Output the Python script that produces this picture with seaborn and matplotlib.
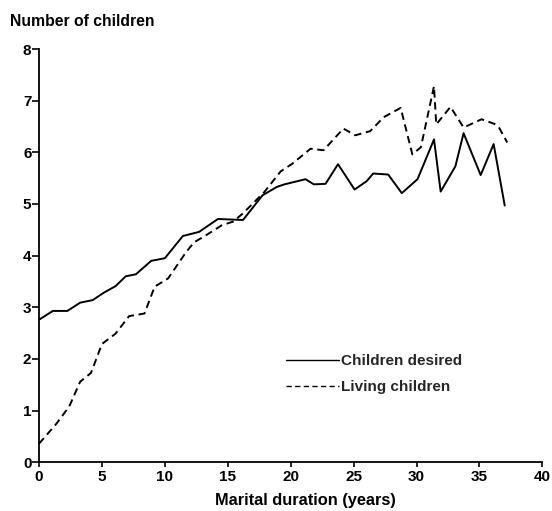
import matplotlib
matplotlib.use("Agg")
import matplotlib.pyplot as plt
import seaborn as sns
import pandas as pd

# Marital duration (years) at which each value was recorded
desired_years = [0.0, 1.1, 2.25, 3.27, 4.27, 5.13, 6.08, 6.89, 7.7, 8.92, 10.0,
                 11.43, 12.72, 14.22, 15.2, 16.21, 17.77, 18.9, 19.5, 21.18, 21.84,
                 22.77, 23.76, 25.08, 26.03, 26.56, 27.75, 28.83, 30.08, 31.39,
                 31.92, 33.09, 33.74, 35.1, 36.13, 37.01]
children_desired = [2.76, 2.93, 2.93, 3.09, 3.14, 3.28, 3.41, 3.6, 3.64, 3.9, 3.95,
                    4.38, 4.46, 4.71, 4.70, 4.69, 5.17, 5.33, 5.38, 5.48, 5.38,
                    5.39, 5.77, 5.28, 5.44, 5.59, 5.57, 5.21, 5.48, 6.25,
                    5.24, 5.73, 6.37, 5.56, 6.16, 4.97]

living_years = [0.0, 1.39, 2.4, 3.27, 4.13, 5.0, 6.08, 7.16, 8.38, 9.19, 10.26,
                11.69, 12.33, 13.24, 14.54, 15.44, 16.21, 17.9, 19.2, 20.13, 21.58,
                22.61, 24.19, 25.13, 26.32, 27.39, 28.74, 29.67, 30.35, 31.39,
                31.57, 32.7, 33.74, 35.17, 36.2, 36.58, 37.21]
living_children = [0.36, 0.75, 1.08, 1.56, 1.73, 2.29, 2.49, 2.83, 2.88, 3.4, 3.56,
                   4.07, 4.26, 4.39, 4.59, 4.66, 4.82, 5.23, 5.63, 5.78, 6.07,
                   6.04, 6.46, 6.33, 6.41, 6.68, 6.86, 5.96, 6.1, 7.28,
                   6.54, 6.88, 6.48, 6.64, 6.55, 6.47, 6.19]

x_ticks = [0, 5, 10, 15, 20, 25, 30, 35, 40]
y_ticks = [0, 1, 2, 3, 4, 5, 6, 7, 8]

series_labels = ["Children desired", "Living children"]
title_text = "Number of children"
x_label = "Marital duration (years)"

sns.set_style("ticks")
plt.rcParams["font.family"] = ["Liberation Sans", "DejaVu Sans"]
plt.rcParams["font.weight"] = "bold"

df_desired = pd.DataFrame({"years": desired_years, "children": children_desired})
df_living = pd.DataFrame({"years": living_years, "children": living_children})

fig = plt.figure(figsize=(5.52, 5.11), dpi=100)
ax = fig.add_axes([0.0707, 0.0953, 0.9118, 0.8088])

sns.lineplot(data=df_desired, x="years", y="children", ax=ax, color="black",
             linewidth=1.4, label=series_labels[0], estimator=None, sort=False)
sns.lineplot(data=df_living, x="years", y="children", ax=ax, color="black",
             linewidth=1.4, linestyle=(0, (3.8, 2.4)), label=series_labels[1],
             estimator=None, sort=False)

ax.set_xlim(0, 40)
ax.set_ylim(0, 8)
ax.set_xticks(x_ticks)
ax.set_yticks(y_ticks)
ax.tick_params(axis="both", direction="out", width=1.2, color="black",
               labelsize=11, labelcolor="black")
ax.tick_params(axis="x", length=3.5, pad=2)
ax.tick_params(axis="y", length=5, pad=0.5)
for lbl in ax.get_xticklabels() + ax.get_yticklabels():
    lbl.set_fontweight("bold")
for side in ["top", "right"]:
    ax.spines[side].set_visible(False)
for side in ["left", "bottom"]:
    ax.spines[side].set_linewidth(1.3)
    ax.spines[side].set_color("black")

ax.set_xlabel(x_label, fontsize=11.8, fontweight="bold", color="black")
ax.xaxis.set_label_coords(0.53, -0.074)
ax.set_ylabel("")
fig.text(10 / 552, 1 - 22 / 511, title_text, fontsize=11.3, fontweight="bold",
         va="center", ha="left", color="black")

leg = ax.legend(loc="upper left", bbox_to_anchor=(286 / 552, 1 - 354 / 511),
                bbox_transform=fig.transFigure, frameon=False, borderpad=0,
                borderaxespad=0, handlelength=3.45, handletextpad=0.16,
                labelspacing=0.8, prop={"size": 11, "weight": "bold"})
for line in leg.get_lines():
    line.set_linewidth(1.0)

fig.savefig("out.png", dpi=100)
